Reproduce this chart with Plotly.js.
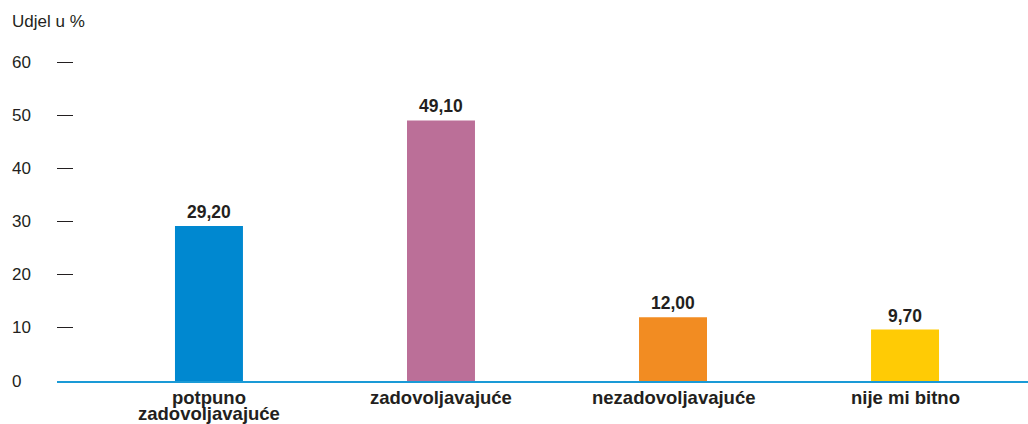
<!DOCTYPE html>
<html>
<head>
<meta charset="utf-8">
<script src="https://cdn.plot.ly/plotly-3.0.1.min.js"></script>
<style>html,body{margin:0;padding:0;background:#fff;}#chart{width:1028px;height:424px;}</style>
</head>
<body>
<div id="chart"></div>
<script>
const categories = ["potpuno<br>zadovoljavajuće", "zadovoljavajuće", "nezadovoljavajuće", "nije mi bitno"];
const values = [29.2, 49.1, 12.0, 9.7];
const barColors = ["#0088d0", "#bb6f98", "#f28c22", "#ffcb05"];
const yTickValues = [0, 10, 20, 30, 40, 50, 60];
const yAxisTitle = "Udjel u %";

const textColor = "#231f20";
const fontFamily = "Liberation Sans, Arial, Helvetica, sans-serif";
const fmt = v => v.toFixed(2).replace(".", ",");

const xIdx = categories.map((c, i) => i);

const trace = {
  type: "bar",
  x: xIdx,
  y: values,
  width: 0.293,
  marker: {color: barColors},
  hoverinfo: "skip"
};

const annotations = [];
values.forEach((v, i) => {
  annotations.push({
    x: i, y: v, xref: "x", yref: "y",
    text: fmt(v), showarrow: false,
    xanchor: "center", yanchor: "bottom", yshift: 2,
    font: {family: fontFamily, size: 17.5, color: textColor, weight: "bold"}
  });
});
// category labels (each line placed with tight leading)
categories.forEach((c, i) => {
  c.split("<br>").forEach((line, k) => {
    annotations.push({
      x: i, y: 0, xref: "x", yref: "paper",
      text: line, showarrow: false,
      xanchor: "center", yanchor: "middle", yshift: -(16 + 16 * k),
      font: {family: fontFamily, size: 18.5, color: textColor, weight: "bold"}
    });
  });
});
yTickValues.forEach(t => {
  annotations.push({
    x: -0.0463, y: t, xref: "paper", yref: "y",
    text: String(t), showarrow: false,
    xanchor: "left", yanchor: "middle", xshift: -2,
    font: {family: fontFamily, size: 17, color: textColor}
  });
});
annotations.push({
  x: -0.0463, y: 1 + 16 / 345, xref: "paper", yref: "paper",
  text: yAxisTitle, showarrow: false, xanchor: "left", yanchor: "middle", xshift: -2,
  yshift: -2,
  font: {family: fontFamily, size: 17, color: textColor}
});

const layout = {
  width: 1028, height: 424,
  margin: {l: 57, r: 0, t: 36, b: 43},
  paper_bgcolor: "#fff", plot_bgcolor: "#fff",
  showlegend: false,
  font: {family: fontFamily, color: textColor},
  xaxis: {
    range: [-0.655, 3.53],
    tickvals: xIdx, showticklabels: false,
    showgrid: false, zeroline: false,
    showline: true, linecolor: "#1a9ad6", linewidth: 2,
    ticks: "",
    fixedrange: true
  },
  yaxis: {
    range: [0, 65],
    tickvals: yTickValues.filter(t => t > 0),
    showticklabels: false,
    ticks: "inside", ticklen: 16, tickwidth: 1, tickcolor: textColor,
    showgrid: false, zeroline: false, showline: false,
    fixedrange: true
  },
  annotations: annotations
};

Plotly.newPlot("chart", [trace], layout, {displayModeBar: false, staticPlot: true});
</script>
</body>
</html>
